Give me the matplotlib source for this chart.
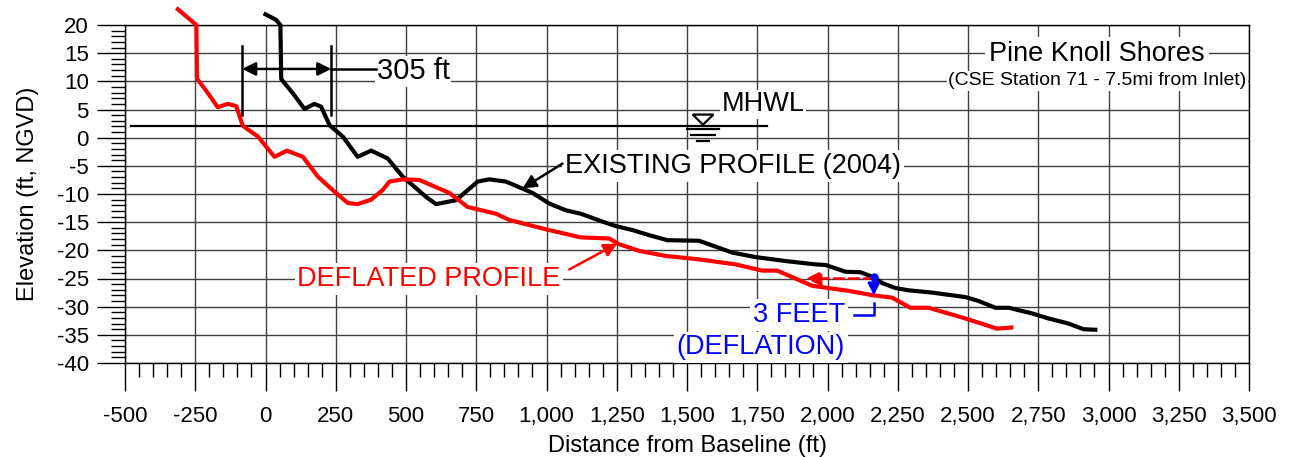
import matplotlib
matplotlib.use("Agg")
import matplotlib.pyplot as plt
from matplotlib.ticker import MultipleLocator, StrMethodFormatter

plt.rcParams["font.family"] = ["Liberation Sans", "DejaVu Sans"]
plt.rcParams["axes.unicode_minus"] = False

# profile data (ft from baseline, ft NGVD)
existing_x = [0, 38, 53, 56, 97, 139, 174, 198, 228, 275, 328, 376, 435, 488, 571, 607, 678,
              755, 796, 856, 950, 1010, 1069, 1122, 1199, 1247, 1306, 1365, 1430, 1543, 1661,
              1744, 1851, 1958, 1993, 2064, 2118, 2165, 2194, 2242, 2289, 2372, 2491, 2538,
              2598, 2645, 2728, 2787, 2858, 2911, 2953]
existing_y = [21.9, 20.9, 20.0, 10.4, 7.9, 5.1, 6.0, 5.5, 2.2, 0.2, -3.4, -2.3, -3.7, -6.9,
              -10.5, -11.8, -11.1, -7.8, -7.4, -7.8, -9.8, -11.7, -12.9, -13.5, -14.9, -15.7,
              -16.4, -17.3, -18.2, -18.3, -20.4, -21.2, -21.9, -22.5, -22.6, -23.8, -23.9,
              -24.8, -25.8, -26.7, -27.1, -27.5, -28.3, -29.0, -30.2, -30.2, -31.2, -32.1,
              -33.0, -34.0, -34.1]

deflated_x = [-312, -246, -244, -205, -170, -134, -104, -81, -27, 32, 76, 133, 186, 239, 293,
              328, 376, 417, 441, 488, 547, 654, 719, 820, 867, 1000, 1122, 1223, 1258, 1330,
              1425, 1543, 1673, 1768, 1821, 1946, 2076, 2165, 2230, 2295, 2360, 2491, 2603, 2654]
deflated_y = [22.8, 20.0, 10.5, 7.9, 5.4, 6.0, 5.6, 2.1, 0.2, -3.4, -2.3, -3.4, -6.9, -9.3,
              -11.6, -11.8, -11.0, -9.3, -7.8, -7.4, -7.5, -9.8, -12.3, -13.5, -14.6, -16.3,
              -17.7, -17.9, -18.9, -20.1, -21.0, -21.6, -22.5, -23.6, -23.6, -26.3, -27.2,
              -28.0, -28.4, -30.2, -30.2, -32.1, -33.9, -33.7]

mhwl = 2.1
x_lim = (-500, 3500)
y_lim = (-40, 20)

RED = "#ff0000"
BLUE = "#0000ff"

fig = plt.figure(figsize=(12.89, 4.57), dpi=100)
ax = fig.add_axes([125 / 1289, 94 / 457, 1124 / 1289, 338 / 457])

ax.set_xlim(*x_lim)
ax.set_ylim(*y_lim)
ax.xaxis.set_major_locator(MultipleLocator(250))
ax.xaxis.set_minor_locator(MultipleLocator(50))
ax.yaxis.set_major_locator(MultipleLocator(5))
ax.yaxis.set_minor_locator(MultipleLocator(1))
ax.xaxis.set_major_formatter(StrMethodFormatter("{x:,.0f}"))
ax.yaxis.set_major_formatter(StrMethodFormatter("{x:.0f}"))
ax.tick_params(which="major", direction="out", length=20, width=1, labelsize=16, color="k")
ax.tick_params(which="minor", direction="out", length=10, width=1, color="k")
ax.tick_params(axis="x", which="major", pad=11)
ax.tick_params(axis="y", which="major", pad=6)
ax.grid(which="major", color="#404040", lw=1.0)
ax.set_axisbelow(True)
for s in ax.spines.values():
    s.set_color("k")
    s.set_linewidth(1)

ax.set_xlabel("Distance from Baseline (ft)", fontsize=17, labelpad=6)
ax.set_ylabel("Elevation (ft, NGVD)", fontsize=17, labelpad=13)

# profiles
ax.plot(existing_x, existing_y, color="k", lw=3, clip_on=False, zorder=6, solid_joinstyle="round")
ax.plot(deflated_x, deflated_y, color=RED, lw=3, clip_on=False, zorder=6, solid_joinstyle="round")

# MHWL line and water symbol
ax.plot([-477, 1783], [mhwl, mhwl], color="k", lw=1.6, zorder=4)
ax.fill([1520, 1594, 1557, 1520], [4.1, 4.1, 2.3, 4.1], facecolor="white", edgecolor="k",
        lw=1.6, zorder=5)
for half, yy in [(57, 1.5), (41, 0.45), (23, -0.55)]:
    ax.plot([1557 - half, 1557 + half], [yy, yy], color="k", lw=1.6, zorder=5)
ax.text(1622, 5.9, "MHWL", fontsize=19.5, ha="left", va="center", zorder=4,
        bbox=dict(facecolor="white", edgecolor="none", pad=1))

# 305 ft dimension
for xx in (-83, 234):
    ax.plot([xx, xx], [4.0, 16.2], color="k", lw=1.8, zorder=5)
ax.annotate("", xy=(-83, 12.2), xytext=(234, 12.2),
            arrowprops=dict(arrowstyle="<|-|>", color="k", lw=1.8, mutation_scale=20,
                            shrinkA=0, shrinkB=0), zorder=5)
ax.plot([234, 392], [12.2, 12.2], color="k", lw=1.8, zorder=5)
ax.text(396, 11.8, "305 ft", fontsize=21, ha="left", va="center", zorder=4,
        bbox=dict(facecolor="white", edgecolor="none", pad=1))

# labels with leaders
ax.text(1066, -5.0, "EXISTING PROFILE (2004)", fontsize=19.5, ha="left", va="center", zorder=4,
        bbox=dict(facecolor="white", edgecolor="none", pad=2))
ax.annotate("", xy=(915, -9.0), xytext=(1057, -4.6),
            arrowprops=dict(arrowstyle="-|>", color="k", lw=1.8, mutation_scale=20,
                            shrinkA=0, shrinkB=0), zorder=7)

ax.text(113, -25.1, "DEFLATED PROFILE", fontsize=19.5, color=RED, ha="left", va="center",
        zorder=4, bbox=dict(facecolor="white", edgecolor="none", pad=2))
ax.annotate("", xy=(1252, -18.8), xytext=(1081, -23.4),
            arrowprops=dict(arrowstyle="-|>", color=RED, lw=1.8, mutation_scale=20,
                            shrinkA=0, shrinkB=0), zorder=7)

# title box
ax.text(2960, 14.8, "Pine Knoll Shores", fontsize=19.5, ha="center", va="center", zorder=4,
        bbox=dict(facecolor="white", edgecolor="none", pad=3))
ax.text(2960, 10.1, "(CSE Station 71 - 7.5mi from Inlet)", fontsize=14, ha="center",
        va="center", zorder=4, bbox=dict(facecolor="white", edgecolor="none", pad=1))

# deflation marker
ax.text(2062, -31.5, "3 FEET", fontsize=19.5, color=BLUE, ha="right", va="center", zorder=4,
        bbox=dict(facecolor="white", edgecolor="none", pad=2))
ax.text(2062, -37.2, "(DEFLATION)", fontsize=19.5, color=BLUE, ha="right", va="center",
        zorder=4, bbox=dict(facecolor="white", edgecolor="none", pad=2))
ax.plot([2094, 2165, 2165], [-31.4, -31.4, -29.4], color=BLUE, lw=1.8, zorder=7)
ax.annotate("", xy=(1924, -25.0), xytext=(2165, -25.0),
            arrowprops=dict(arrowstyle="-|>", color=RED, lw=1.8, mutation_scale=22,
                            linestyle=(0, (4, 2)), shrinkA=0, shrinkB=0), zorder=7)
ax.annotate("", xy=(2165, -28.0), xytext=(2165, -24.8),
            arrowprops=dict(arrowstyle="-|>", color=BLUE, lw=1.8, mutation_scale=18,
                            shrinkA=0, shrinkB=0), zorder=8)
ax.plot([2165], [-24.8], "o", color=BLUE, ms=5, zorder=8)

fig.savefig("out.png", dpi=100)
